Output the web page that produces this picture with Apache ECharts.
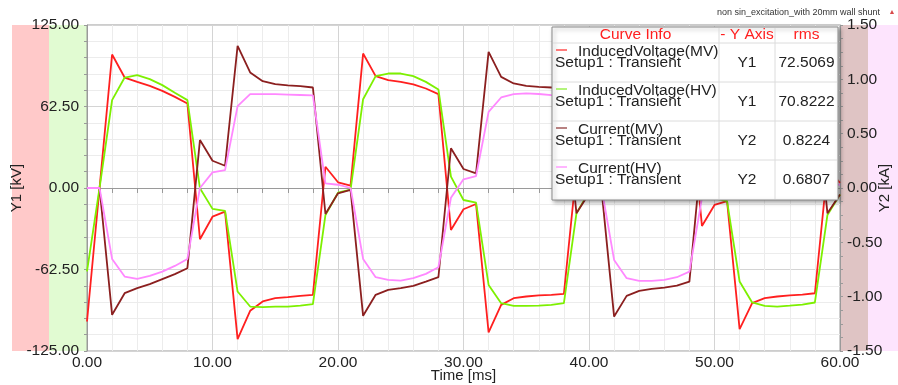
<!DOCTYPE html>
<html>
<head>
<meta charset="utf-8">
<script src="https://cdn.jsdelivr.net/npm/echarts@6/dist/echarts.min.js"></script>
<style>
  html, body { margin: 0; padding: 0; background: #ffffff; }
  #chart { width: 898px; height: 385px; }
</style>
</head>
<body>
<div id="chart"></div>
<script>
// Sample times of the transient run [ms]
const timeMs = [
  0, 1, 2, 3, 4, 5, 6, 7, 8, 9, 10, 11, 12, 13, 14, 15, 16, 17, 18, 19, 20,
  21, 22, 23, 24, 25, 26, 27, 28, 29, 30, 31, 32, 33, 34, 35, 36, 37, 38, 39, 40,
  41, 42, 43, 44, 45, 46, 47, 48, 49, 50, 51, 52, 53, 54, 55, 56, 57, 58, 59, 60
];

// Induced voltage, MV winding [kV]
const inducedVoltageMV = [
  -102.4, 0, 102.4, 84.7, 81.4, 78.3, 74.5, 69.9, 64.8, -39.3, -22, -18.1, -115.9, -94.2, -87, -84.5, -83.7, -82.7, -81.9, 16.3, 4.4,
  1.8, 103.1, 85.8, 82.7, 81.4, 79.4, 76.3, 72, -32.2, -16.3, -12.3, -110.8, -89.6, -84.5, -83.2, -82.4, -81.9, -81.2, 14, 4,
  2, 103, 86, 82.5, 81, 79, 76, 72, -29.1, -13, -10, -108.2, -88.3, -84.5, -83.2, -82.4, -81.7, -80.7, 15, 4
];

// Induced voltage, HV winding [kV]
const inducedVoltageHV = [
  -64, 0, 67.4, 84.7, 86.5, 83.5, 78.9, 73, 67.4, -0.2, -16, -17.6, -79.4, -90.9, -91.3, -91, -90.9, -90.2, -89, -20.7, -3.6,
  -1.2, 68.1, 85.8, 87.8, 87.8, 85.8, 81.4, 75.6, 8.7, -9.2, -11.2, -74.3, -88.3, -90.4, -90.4, -90.2, -89.6, -88.3, -19.4, -3,
  -1.2, 68, 85.5, 87.5, 87.5, 85.5, 81, 75.5, 9, -8, -10, -71.7, -87.8, -90.4, -90.9, -90.2, -89.4, -87.8, -20.7, -5
];

// Winding current, MV side [kA]
const currentMV = [
  0, 0, -1.167, -0.968, -0.922, -0.885, -0.839, -0.793, -0.738, 0.441, 0.251, 0.205, 1.308, 1.063, 0.983, 0.956, 0.944, 0.9375, 0.925, -0.239, -0.049,
  -0.018, -1.176, -0.983, -0.9375, -0.922, -0.9, -0.861, -0.821, 0.365, 0.175, 0.135, 1.253, 1.023, 0.962, 0.94, 0.93, 0.925, 0.92, -0.233, -0.05,
  -0.018, -1.183, -0.993, -0.947, -0.928, -0.916, -0.898, -0.861, 0.36, 0.17, 0.13, 1.25, 1.02, 0.96, 0.94, 0.93, 0.925, 0.92, -0.233, -0.06
];

// Winding current, HV side [kA]
const currentHV = [
  0, 0, -0.653, -0.815, -0.836, -0.809, -0.769, -0.717, -0.653, 0, 0.144, 0.165, 0.754, 0.864, 0.864, 0.864, 0.86, 0.856, 0.852, 0.043, 0.03,
  0, -0.653, -0.821, -0.846, -0.852, -0.83, -0.79, -0.729, -0.09, 0.08, 0.11, 0.7, 0.833, 0.864, 0.87, 0.865, 0.855, 0.85, 0.04, 0.03,
  0, -0.662, -0.83, -0.855, -0.855, -0.846, -0.821, -0.769, -0.09, 0.08, 0.11, 0.7, 0.84, 0.865, 0.87, 0.865, 0.86, 0.85, 0.04, 0.03
];

// Curve info table
const curveNames = ['InducedVoltage(MV)', 'InducedVoltage(HV)', 'Current(MV)', 'Current(HV)'];
const curveSetup = 'Setup1 : Transient';
const curveAxis = ['Y1', 'Y1', 'Y2', 'Y2'];
const curveRms = ['72.5069', '70.8222', '0.8224', '0.6807'];
const tableHeader = ['Curve Info', '- Y Axis', 'rms'];

const plotTitle = 'non sin_excitation_with 20mm wall shunt';
const xAxisName = 'Time [ms]';
const y1AxisName = 'Y1 [kV]';
const y2AxisName = 'Y2 [kA]';

const curveValues = [inducedVoltageMV, inducedVoltageHV, currentMV, currentHV];
const curveYAxis = [0, 0, 1, 1];
const curveColors = ['#ff1f1f', '#7df000', '#8b1f1f', '#ff88ff'];
const swatchColors = ['#ff5050', '#9af050', '#a05858', '#ff9cff'];

const FONT = '"Liberation Sans", Arial, sans-serif';
const W = 898, H = 385;
const GRID = { left: 87, right: 58, top: 25, bottom: 34 };

const chart = echarts.init(document.getElementById('chart'), null, { renderer: 'canvas' });

const series = curveNames.map((name, k) => ({
  name,
  type: 'line',
  yAxisIndex: curveYAxis[k],
  showSymbol: false,
  data: timeMs.map((t, i) => [t, curveValues[k][i]]),
  lineStyle: { color: curveColors[k], width: 1.8 },
  itemStyle: { color: curveColors[k] },
  z: 3 + k
}));

// Curve info table drawn as a floating panel
const TBL = { x: 552, y: 27, w: 286, h: 173, headerH: 16, rowH: 39, col1: 719, col2: 775 };
const tableEls = [];
tableEls.push({
  type: 'rect', z: 100,
  shape: { x: TBL.x, y: TBL.y, width: TBL.w, height: TBL.h },
  style: { fill: '#ffffff', stroke: '#8a8a8a', lineWidth: 1,
           shadowColor: 'rgba(0,0,0,0.35)', shadowBlur: 4, shadowOffsetX: 2, shadowOffsetY: 2 }
});
const hLines = [TBL.y + TBL.headerH];
for (let r = 1; r < curveNames.length; r++) hLines.push(TBL.y + TBL.headerH + r * TBL.rowH);
hLines.forEach(yy => tableEls.push({
  type: 'line', z: 101,
  shape: { x1: TBL.x + 1, y1: yy, x2: TBL.x + TBL.w - 1, y2: yy },
  style: { stroke: '#dcdcdc', lineWidth: 1 }
}));
[TBL.col1, TBL.col2].forEach(xx => tableEls.push({
  type: 'line', z: 101,
  shape: { x1: xx, y1: TBL.y + 1, x2: xx, y2: TBL.y + TBL.h - 1 },
  style: { stroke: '#dcdcdc', lineWidth: 1 }
}));
const colCenters = [(TBL.x + TBL.col1) / 2, (TBL.col1 + TBL.col2) / 2, (TBL.col2 + TBL.x + TBL.w) / 2];
tableHeader.forEach((txt, c) => tableEls.push({
  type: 'text', z: 102,
  style: { text: txt, x: colCenters[c], y: TBL.y + 8, fill: '#ff1f1f',
           font: '15.5px ' + FONT, align: 'center', verticalAlign: 'middle' }
}));
curveNames.forEach((name, r) => {
  const top = TBL.y + TBL.headerH + r * TBL.rowH;
  tableEls.push({
    type: 'line', z: 102,
    shape: { x1: TBL.x + 4, y1: top + 7, x2: TBL.x + 15, y2: top + 7 },
    style: { stroke: swatchColors[r], lineWidth: 1.5 }
  });
  tableEls.push({
    type: 'text', z: 102,
    style: { text: name, x: TBL.x + 26, y: top + 9, fill: '#222222',
             font: '15.5px ' + FONT, align: 'left', verticalAlign: 'middle' }
  });
  tableEls.push({
    type: 'text', z: 102,
    style: { text: curveSetup, x: TBL.x + 3, y: top + 20, fill: '#222222',
             font: '15.5px ' + FONT, align: 'left', verticalAlign: 'middle' }
  });
  tableEls.push({
    type: 'text', z: 102,
    style: { text: curveAxis[r], x: colCenters[1], y: top + 20, fill: '#222222',
             font: '15.5px ' + FONT, align: 'center', verticalAlign: 'middle' }
  });
  tableEls.push({
    type: 'text', z: 102,
    style: { text: curveRms[r], x: colCenters[2], y: top + 20, fill: '#222222',
             font: '15.5px ' + FONT, align: 'center', verticalAlign: 'middle' }
  });
});

// Coloured axis bands on both sides of the plot
const bandTop = GRID.top, bandH = H - GRID.bottom - GRID.top;
const bands = [
  { x: 12, w: 37, c: '#ffc9c9' },
  { x: 49, w: 38, c: '#e1fbd2' },
  { x: 840, w: 28, c: '#dfc4c4' },
  { x: 868, w: 30, c: '#fde4fd' }
].map(b => ({
  type: 'rect', z: -10, silent: true,
  shape: { x: b.x, y: bandTop, width: b.w, height: bandH },
  style: { fill: b.c }
}));

// Axis titles
const plotMidY = GRID.top + bandH / 2;
const plotMidX = GRID.left + (W - GRID.left - GRID.right) / 2;
const axisTitles = [
  { type: 'text', z: 60, x: 17, y: plotMidY, rotation: Math.PI / 2,
    style: { text: y1AxisName, fill: '#222222', font: '15px ' + FONT, align: 'center', verticalAlign: 'middle' } },
  { type: 'text', z: 60, x: 885, y: plotMidY, rotation: Math.PI / 2,
    style: { text: y2AxisName, fill: '#222222', font: '15px ' + FONT, align: 'center', verticalAlign: 'middle' } },
  { type: 'text', z: 60, x: plotMidX, y: 376,
    style: { text: xAxisName, fill: '#222222', font: '15px ' + FONT, align: 'center', verticalAlign: 'middle' } }
];

const axisLabelStyle = { color: '#222222', fontSize: 15.5, fontFamily: FONT };
const fmt2 = v => v.toFixed(2);

const option = {
  animation: false,
  backgroundColor: '#ffffff',
  textStyle: { fontFamily: FONT },
  grid: {
    left: GRID.left, right: GRID.right, top: GRID.top, bottom: GRID.bottom,
    outerBoundsMode: 'none', containLabel: false,
    show: true, backgroundColor: '#ffffff', borderColor: '#9a9a9a', borderWidth: 1
  },
  xAxis: {
    type: 'value', min: 0, max: 60, interval: 10,
    axisLine: { show: true, lineStyle: { color: '#9a9a9a' } },
    axisTick: { show: true, length: 5, lineStyle: { color: '#9a9a9a' } },
    minorTick: { show: true, splitNumber: 5, length: 5, lineStyle: { color: '#9a9a9a' } },
    axisLabel: Object.assign({ formatter: fmt2, margin: 4 }, axisLabelStyle),
    splitLine: { show: true, lineStyle: { color: '#d4d4d4', width: 1 } },
    minorSplitLine: { show: true, lineStyle: { color: '#ececec', width: 1 } }
  },
  yAxis: [
    {
      type: 'value', min: -125, max: 125, interval: 62.5, position: 'left',
      axisLine: { show: true, lineStyle: { color: '#9a9a9a' } },
      axisTick: { show: true, length: 3, lineStyle: { color: '#9a9a9a' } },
      minorTick: { show: true, splitNumber: 5, length: 3, lineStyle: { color: '#9a9a9a' } },
      axisLabel: Object.assign({ formatter: fmt2, margin: 8 }, axisLabelStyle),
      splitLine: { show: true, lineStyle: { color: '#d4d4d4', width: 1 } },
      minorSplitLine: { show: true, lineStyle: { color: '#ececec', width: 1 } }
    },
    {
      type: 'value', min: -1.5, max: 1.5, interval: 0.5, position: 'right',
      axisLine: { show: true, lineStyle: { color: '#9a9a9a' } },
      axisTick: { show: true, length: 3, lineStyle: { color: '#9a9a9a' } },
      minorTick: { show: true, splitNumber: 4, length: 3, lineStyle: { color: '#9a9a9a' } },
      axisLabel: Object.assign({ formatter: fmt2, margin: 7 }, axisLabelStyle),
      splitLine: { show: false },
      minorSplitLine: { show: false }
    }
  ],
  series,
  graphic: [
    ...bands,
    ...axisTitles,
    {
      type: 'text', z: 50,
      style: { text: plotTitle, x: 880, y: 13, fill: '#333333',
               font: '9px ' + FONT, align: 'right', verticalAlign: 'middle' }
    },
    {
      type: 'text', z: 50,
      style: { text: '▲', x: 892, y: 12, fill: '#d84a4a',
               font: '7px ' + FONT, align: 'center', verticalAlign: 'middle' }
    },
    ...tableEls
  ]
};

chart.setOption(option);
</script>
</body>
</html>
